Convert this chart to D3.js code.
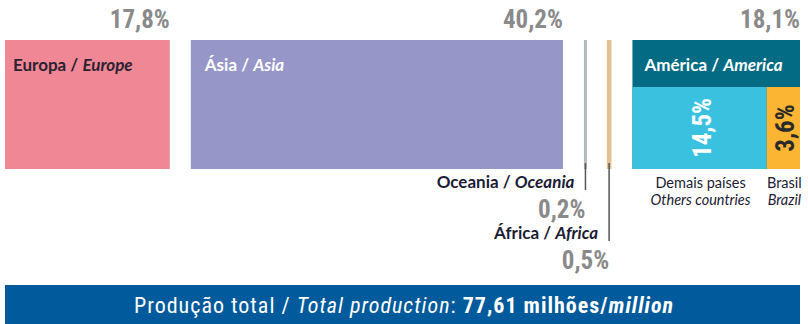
<!DOCTYPE html>
<html>
<head>
<meta charset="utf-8">
<script src="https://cdn.jsdelivr.net/npm/d3@7"></script>
<style>
  body { margin: 0; background: #fff; }
  svg { display: block; }
</style>
</head>
<body>
<div id="chart"></div>
<script>
// share of total production by region (%)
const regions = ["Europa", "Ásia", "Oceania", "África", "América"];
const regionsEn = ["Europe", "Asia", "Oceania", "Africa", "America"];
const shares = [17.8, 40.2, 0.2, 0.5, 18.1];
const regionColors = ["#f08795", "#9696c8", "#b3bbbf", "#e3c292", "#046b84"];
// America split
const subNames = ["Demais países", "Brasil"];
const subNamesEn = ["Others countries", "Brazil"];
const subShares = [14.5, 3.6];
const subColors = ["#3ac1df", "#fbb532"];
const totalLabel = "77,61";

const W = 808, H = 324;
const gap = 21;
const barTop = 40, barH = 129;
const fmt = v => d3.format(".1f")(v).replace(".", ",") + "%";
const narrow = "'Liberation Sans Narrow', 'Roboto Condensed', sans-serif";

const svg = d3.select("#chart").append("svg")
  .attr("width", W).attr("height", H)
  .style("font-family", "Lato, 'Open Sans', sans-serif");

const sum = d3.sum(shares);
const x = d3.scaleLinear()
  .domain([0, sum])
  .range([5, 800 - gap * (shares.length - 1)]);

// build blocks
let cum = 0;
const blocks = shares.map((v, i) => {
  const x0 = x(cum) + i * gap;
  const w = Math.max(3, x(cum + v) - x(cum));
  cum += v;
  return { name: regions[i], en: regionsEn[i], value: v, color: regionColors[i], x0, w };
});

svg.selectAll("rect.region")
  .data(blocks)
  .enter()
  .append("rect")
  .attr("class", "region")
  .attr("x", d => d.x0)
  .attr("y", barTop)
  .attr("width", d => d.w)
  .attr("height", barH)
  .attr("fill", d => d.color);

const big = blocks.filter(d => d.w > 50);
const small = blocks.filter(d => d.w <= 50);

// percentages above big blocks
svg.selectAll("text.pct")
  .data(big)
  .enter()
  .append("text")
  .attr("class", "pct")
  .attr("x", d => d.x0 + d.w)
  .attr("y", 28)
  .attr("text-anchor", "end")
  .text(d => fmt(d.value))
  .style("fill", "#8a8a8a")
  .style("font-family", narrow)
  .style("font-size", "25px")
  .style("font-weight", 700);

// names inside big blocks
const nameCol = ["#2b2232", "#fff", null, null, "#fff"];
const nameX = [8, 14, null, null, 12];
const nameT = svg.selectAll("text.name")
  .data(big)
  .enter()
  .append("text")
  .attr("class", "name")
  .attr("x", d => d.x0 + nameX[regions.indexOf(d.name)])
  .attr("y", 71)
  .style("fill", d => nameCol[regions.indexOf(d.name)])
  .style("font-size", "17px")
  .style("font-weight", 700);
nameT.append("tspan").text(d => d.name + " / ");
nameT.append("tspan").style("font-style", "italic").text(d => d.en);

// America sub blocks
const am = blocks[4];
const bandH = 47;
const xs = d3.scaleLinear().domain([0, d3.sum(subShares)]).range([am.x0, am.x0 + am.w]);
let c2 = 0;
const subs = subShares.map((v, i) => {
  const a = xs(c2); c2 += v;
  return { name: subNames[i], en: subNamesEn[i], value: v, color: subColors[i], x0: a, w: xs(c2) - a };
});
svg.selectAll("rect.sub")
  .data(subs)
  .enter()
  .append("rect")
  .attr("class", "sub")
  .attr("x", d => d.x0)
  .attr("y", barTop + bandH)
  .attr("width", d => d.w)
  .attr("height", barH - bandH)
  .attr("fill", d => d.color);

svg.selectAll("text.subpct")
  .data(subs)
  .enter()
  .append("text")
  .attr("class", "subpct")
  .attr("transform", d => `translate(${d.x0 + d.w / 2 + 11},${barTop + bandH + (barH - bandH) / 2}) rotate(-90)`)
  .attr("text-anchor", "middle")
  .text(d => fmt(d.value))
  .style("fill", (d, i) => i === 0 ? "#fff" : "#2a2a2a")
  .style("font-family", narrow)
  .style("font-size", "25px")
  .style("font-weight", 700);

// sub labels below
const subLab = svg.selectAll("g.sublab")
  .data(subs)
  .enter()
  .append("g")
  .attr("class", "sublab")
  .attr("transform", d => `translate(${d.x0 + d.w / 2 + 1},0)`);
subLab.append("text")
  .attr("y", 188).attr("text-anchor", "middle")
  .text(d => d.name)
  .style("fill", "#1c1c34").style("font-size", "14.5px");
subLab.append("text")
  .attr("y", 205).attr("text-anchor", "middle")
  .text(d => d.en)
  .style("fill", "#1c1c34").style("font-size", "14.5px").style("font-style", "italic");

// small blocks: leader lines + labels
const leadEnd = [190, 241];
small.forEach((d, i) => {
  const cx = d.x0 + d.w / 2;
  svg.append("line")
    .attr("x1", cx).attr("x2", cx)
    .attr("y1", barTop + barH - 6).attr("y2", leadEnd[i])
    .attr("stroke", "#555").attr("stroke-width", 1.5);
  const t = svg.append("text")
    .attr("x", cx - 11)
    .attr("y", leadEnd[i] - 2)
    .attr("text-anchor", "end")
    .style("fill", "#1c1c34").style("font-size", "17px").style("font-weight", 700);
  t.append("tspan").text(d.name + " / ");
  t.append("tspan").style("font-style", "italic").text(d.en);
  svg.append("text")
    .attr("x", cx)
    .attr("y", leadEnd[i] + 28)
    .attr("text-anchor", "end")
    .text(fmt(d.value))
    .style("fill", "#8a8a8a")
    .style("font-family", narrow)
    .style("font-size", "25px").style("font-weight", 700);
});

// total bar
svg.append("rect")
  .attr("x", 5).attr("y", 285)
  .attr("width", 795).attr("height", 39)
  .attr("fill", "#015a9b");
const tt = svg.append("text")
  .attr("x", 404).attr("y", 313)
  .attr("text-anchor", "middle")
  .style("fill", "#fff")
  .style("font-family", narrow)
  .style("font-size", "22px")
  .style("letter-spacing", "1px");
tt.append("tspan").text("Produção total / ");
tt.append("tspan").style("font-style", "italic").text("Total production");
tt.append("tspan").text(": ");
tt.append("tspan").style("font-weight", 700).text(totalLabel + " milhões/");
tt.append("tspan").style("font-weight", 700).style("font-style", "italic").text("million");
</script>
</body>
</html>
